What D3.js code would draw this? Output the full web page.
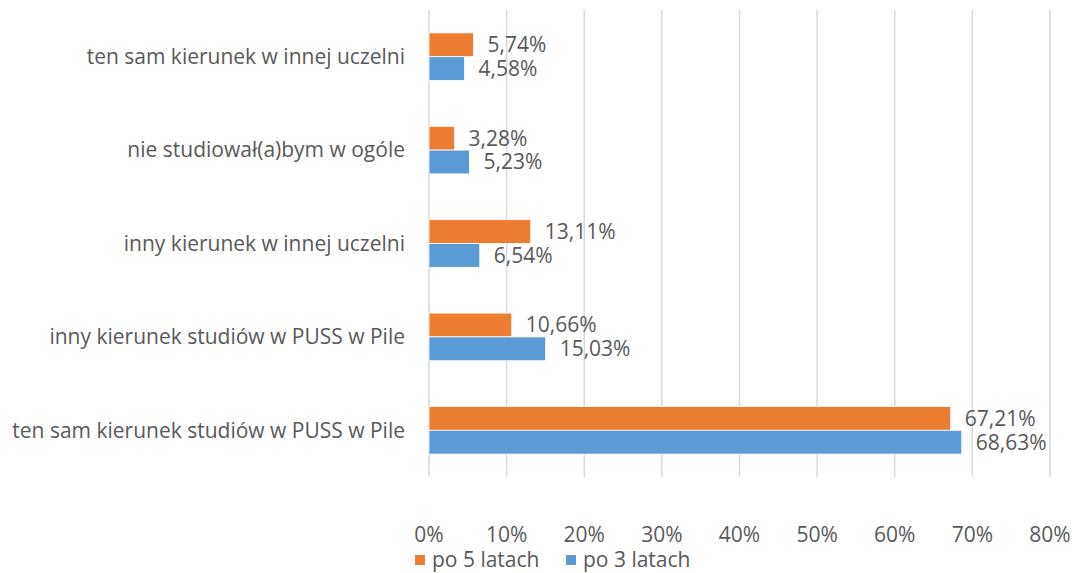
<!DOCTYPE html>
<html lang="pl">
<head>
	<meta charset="UTF-8">
	<title>Wybór studiów</title>
	<script src="https://cdn.jsdelivr.net/npm/d3@7"></script>
	<style>
		body { margin: 0; background: #fff; }
		svg text { font-family: "Open Sans", sans-serif; fill: #595959; font-size: 21px; }
	</style>
</head>
<body>
<div id="viz"></div>
<script>
	var categories = [
		'ten sam kierunek w innej uczelni',
		'nie studiował(a)bym w ogóle',
		'inny kierunek w innej uczelni',
		'inny kierunek studiów w PUSS w Pile',
		'ten sam kierunek studiów w PUSS w Pile'
	];
	var seriesNames = ['po 5 latach', 'po 3 latach'];
	var po5 = [5.74, 3.28, 13.11, 10.66, 67.21];
	var po3 = [4.58, 5.23, 6.54, 15.03, 68.63];
	var ticks = [0, 10, 20, 30, 40, 50, 60, 70, 80];
	var colors = ['#ED7D31', '#5B9BD5'];

	var W = 1074, H = 573;
	var margin = {top: 10, left: 429, right: 24, bottom: 96};
	var width = W - margin.left - margin.right;
	var height = H - margin.top - margin.bottom;

	var svg = d3.select('#viz').append('svg')
		.attr('width', W).attr('height', H);
	var g = svg.append('g')
		.attr('transform', 'translate(' + margin.left + ',' + margin.top + ')');

	var x = d3.scaleLinear().domain([0, 80]).range([0, width]);
	var y = d3.scaleBand().domain(categories).range([0, height]).paddingInner(0.49).paddingOuter(0.245);
	var y1 = d3.scaleBand().domain(seriesNames).range([0, y.bandwidth()]);

	// grid
	g.selectAll('.grid').data(ticks).enter().append('line')
		.attr('x1', function (d) { return x(d); })
		.attr('x2', function (d) { return x(d); })
		.attr('y1', 0).attr('y2', height)
		.attr('stroke', '#d9d9d9').attr('stroke-width', 1.5);

	// x tick labels
	g.selectAll('.tick-label').data(ticks).enter().append('text')
		.attr('x', function (d) { return x(d); })
		.attr('y', height + 65)
		.attr('text-anchor', 'middle')
		.text(function (d) { return d + '%'; });

	// category labels
	g.selectAll('.cat').data(categories).enter().append('text')
		.attr('x', -24)
		.attr('y', function (d) { return y(d) + y.bandwidth() / 2; })
		.attr('dy', '0.35em')
		.attr('text-anchor', 'end')
		.text(function (d) { return d; });

	var rows = [po5, po3];
	rows.forEach(function (vals, si) {
		var sg = g.append('g');
		sg.selectAll('rect').data(vals).enter().append('rect')
			.attr('x', 0)
			.attr('y', function (d, i) { return y(categories[i]) + y1(seriesNames[si]); })
			.attr('width', function (d) { return x(d); })
			.attr('height', y1.bandwidth())
			.attr('fill', colors[si])
			.attr('stroke', '#fff').attr('stroke-width', 0.8);
		sg.selectAll('text').data(vals).enter().append('text')
			.attr('x', function (d) { return x(d) + 14; })
			.attr('y', function (d, i) { return y(categories[i]) + y1(seriesNames[si]) + y1.bandwidth() / 2; })
			.attr('dy', '0.35em')
			.text(function (d) { return d.toFixed(2).replace('.', ',') + '%'; });
	});

	// legend
	var legend = svg.append('g').attr('transform', 'translate(415,560)');
	var lx = [0, 151];
	seriesNames.forEach(function (name, i) {
		legend.append('rect')
			.attr('x', lx[i]).attr('y', -5)
			.attr('width', 10).attr('height', 10)
			.attr('fill', colors[i]);
		legend.append('text')
			.attr('x', lx[i] + 17).attr('y', 0)
			.attr('dy', '0.35em')
			.text(name);
	});
</script>
</body>
</html>
